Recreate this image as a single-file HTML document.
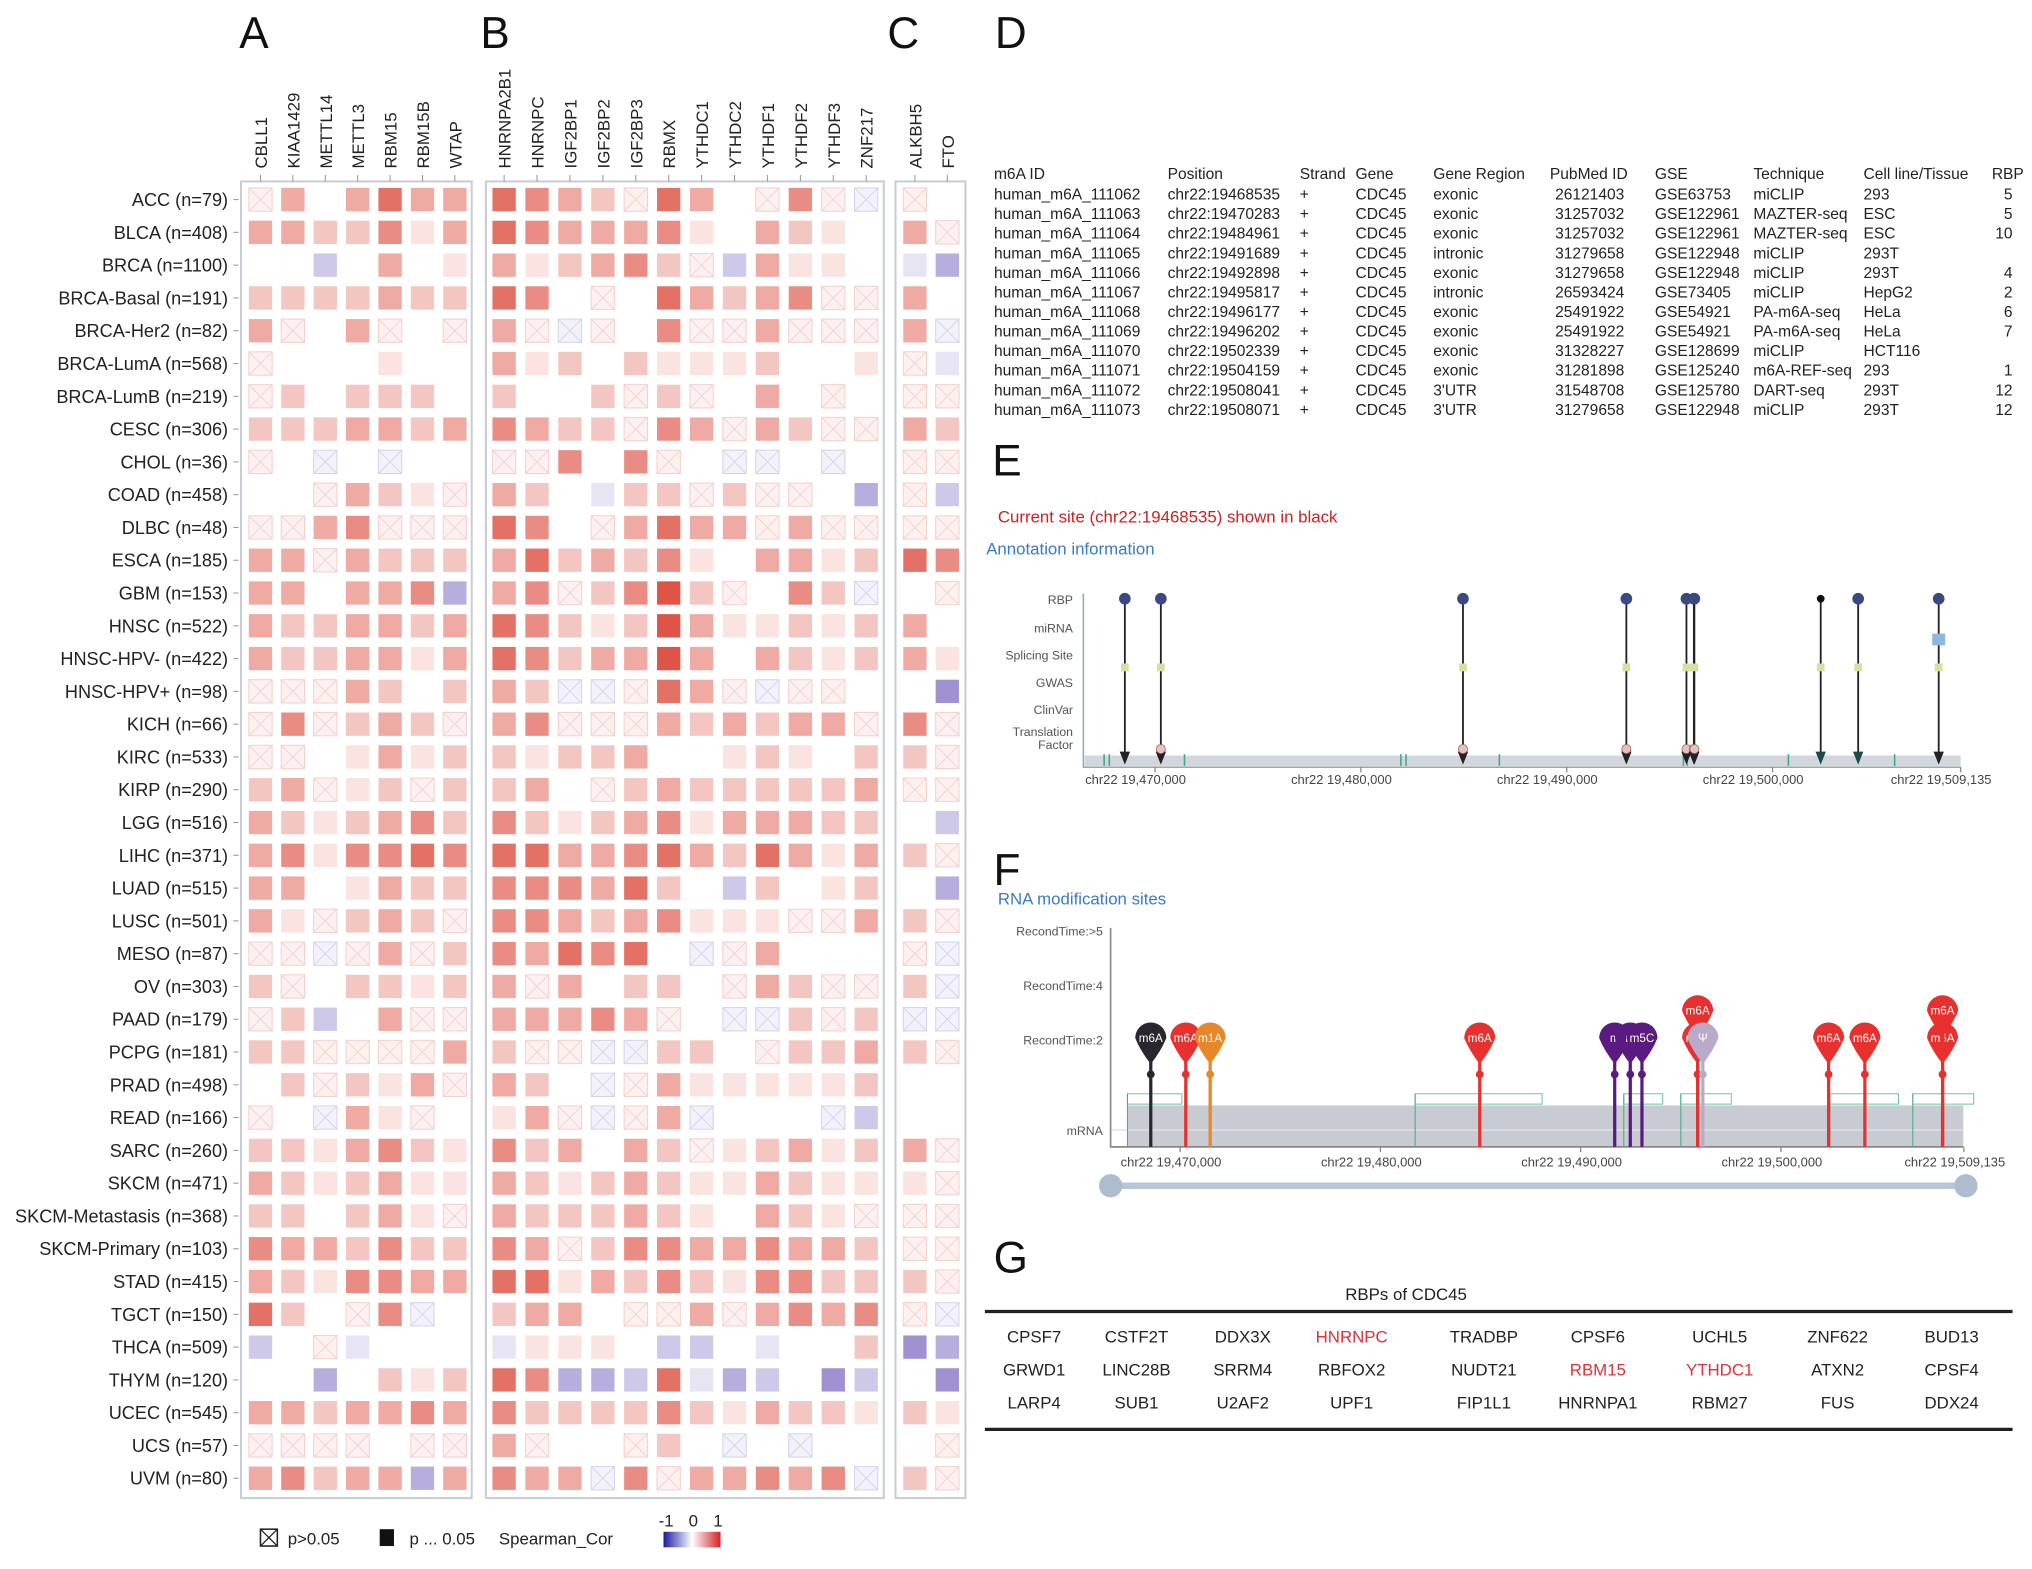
<!DOCTYPE html>
<html><head><meta charset="utf-8">
<style>
html,body{margin:0;padding:0;background:#fff;width:2032px;height:1563px;overflow:hidden}
#stage{position:absolute;left:0;top:0;width:1568px;height:1206px;transform:scale(1.29592);transform-origin:0 0}
svg{font-family:"Liberation Sans",sans-serif}
</style></head>
<body>
<div id="stage">
<svg id="fig" width="1568" height="1206" viewBox="0 0 1568 1206"></svg>
</div>
<script>
const cancerTypes=["ACC (n=79)","BLCA (n=408)","BRCA (n=1100)","BRCA-Basal (n=191)","BRCA-Her2 (n=82)","BRCA-LumA (n=568)","BRCA-LumB (n=219)","CESC (n=306)","CHOL (n=36)","COAD (n=458)","DLBC (n=48)","ESCA (n=185)","GBM (n=153)","HNSC (n=522)","HNSC-HPV- (n=422)","HNSC-HPV+ (n=98)","KICH (n=66)","KIRC (n=533)","KIRP (n=290)","LGG (n=516)","LIHC (n=371)","LUAD (n=515)","LUSC (n=501)","MESO (n=87)","OV (n=303)","PAAD (n=179)","PCPG (n=181)","PRAD (n=498)","READ (n=166)","SARC (n=260)","SKCM (n=471)","SKCM-Metastasis (n=368)","SKCM-Primary (n=103)","STAD (n=415)","TGCT (n=150)","THCA (n=509)","THYM (n=120)","UCEC (n=545)","UCS (n=57)","UVM (n=80)"];
const writerGenes=["CBLL1","KIAA1429","METTL14","METTL3","RBM15","RBM15B","WTAP"];
const readerGenes=["HNRNPA2B1","HNRNPC","IGF2BP1","IGF2BP2","IGF2BP3","RBMX","YTHDC1","YTHDC2","YTHDF1","YTHDF2","YTHDF3","ZNF217"];
const eraserGenes=["ALKBH5","FTO"];
// tokens: number = correlation*10 (significant), x = non-significant positive, y = non-significant negative
const corRows=[
"x 3 0 3 5 3 3 5 4 3 2 x 5 3 0 x 4 x y x 0",
"3 3 2 2 4 1 3 5 4 3 3 3 4 1 0 3 2 1 0 3 x",
"0 0 -2 0 3 0 1 3 1 2 3 4 2 x -2 3 1 1 0 -1 -3",
"2 2 2 2 3 2 2 5 4 0 x 0 5 3 2 3 4 x x 3 0",
"3 x 0 3 x 0 x 3 x y x 0 4 x x 3 x x x 3 y",
"x 0 0 0 1 0 0 3 1 2 0 2 1 1 1 2 0 0 1 x -1",
"x 2 0 2 2 2 0 2 0 0 2 x 2 x 0 3 0 x 0 x x",
"2 2 2 3 3 2 3 4 3 2 2 x 4 3 x 3 2 x x 3 2",
"x 0 y 0 y 0 0 x x 4 0 4 x 0 y y 0 y 0 x x",
"0 0 x 3 2 1 x 3 2 0 -1 2 2 x 2 x x 0 -3 x -2",
"x x 3 4 x x x 5 4 0 x 3 5 3 3 x 3 x x x x",
"3 3 x 3 2 2 2 3 5 2 3 2 4 1 0 3 3 1 2 5 4",
"3 3 0 3 3 4 -3 3 4 x 2 4 6 2 x 0 4 2 y 0 x",
"3 2 2 3 3 2 3 5 4 2 1 2 6 3 1 1 2 1 2 3 0",
"3 2 2 3 3 1 3 5 4 2 3 3 6 3 0 3 2 1 2 3 1",
"x x x 3 2 0 2 3 2 y y x 5 3 x y x x 0 0 -4",
"x 4 x 2 3 2 x 3 4 x x x 3 2 3 2 3 3 x 4 x",
"x x 0 1 3 1 2 2 1 2 2 3 0 0 1 2 1 0 2 2 x",
"2 3 x 1 2 x 2 2 3 0 x 2 3 2 2 2 2 2 3 x x",
"3 2 1 2 3 4 2 4 2 1 2 3 4 1 3 3 3 2 2 0 -2",
"3 4 1 4 4 5 4 5 5 3 3 4 5 3 2 5 3 1 3 2 x",
"3 3 0 1 3 2 2 4 4 4 3 5 2 0 -2 2 0 1 2 0 -3",
"3 1 x 2 3 2 x 4 4 3 2 3 4 1 1 1 x x 3 2 x",
"x x y x 3 x 2 4 3 5 4 5 0 y x 3 0 0 0 x y",
"2 x 0 2 2 1 2 3 x 3 0 2 2 0 x 3 2 x x 2 y",
"x 2 -2 0 3 x x 3 3 3 4 3 x 0 y y 2 x 2 y y",
"2 2 x x x x 3 2 x x y y 2 2 0 x 2 2 3 2 x",
"0 2 x 2 1 3 x 3 2 0 y x 3 1 1 1 1 1 2 0 0",
"x 0 y 3 1 x 0 1 3 x y x 3 y 0 0 0 y -2 0 0",
"2 2 1 3 4 2 1 4 2 3 0 3 2 x 1 2 3 1 2 3 x",
"3 2 1 2 3 1 1 3 2 1 2 3 2 1 1 3 2 1 1 1 x",
"2 2 0 2 3 1 x 3 2 2 2 3 2 1 0 3 2 1 x x x",
"4 3 3 2 4 2 2 4 3 x 2 4 4 3 3 4 3 3 2 x x",
"3 2 1 4 4 3 3 5 5 1 3 2 4 2 1 4 4 2 2 2 x",
"5 2 0 x 4 y 0 2 3 3 0 x x 3 x 3 4 3 4 x y",
"-2 0 x -1 0 0 0 -1 1 1 1 0 -2 -2 0 -1 0 0 2 -4 -3",
"0 0 -3 0 2 1 2 5 4 -3 -3 -2 5 -1 -3 -2 0 -4 -2 0 -4",
"3 3 2 3 3 4 3 4 2 2 2 2 4 2 1 3 2 2 1 2 1",
"x x x x 0 x x 3 x 0 0 x 2 0 y 0 y 0 0 0 x",
"3 4 2 3 3 -3 3 4 3 3 y 4 x 3 3 4 3 4 y 2 x"];
const tableHeaders=["m6A ID","Position","Strand","Gene","Gene Region","PubMed ID","GSE","Technique","Cell line/Tissue","RBP"];
const siteIds=["human_m6A_111062","human_m6A_111063","human_m6A_111064","human_m6A_111065","human_m6A_111066","human_m6A_111067","human_m6A_111068","human_m6A_111069","human_m6A_111070","human_m6A_111071","human_m6A_111072","human_m6A_111073"];
const sitePositions=[19468535,19470283,19484961,19491689,19492898,19495817,19496177,19496202,19502339,19504159,19508041,19508071];
const siteRegions=["exonic","exonic","exonic","intronic","exonic","intronic","exonic","exonic","exonic","exonic","3'UTR","3'UTR"];
const sitePubmed=["26121403","31257032","31257032","31279658","31279658","26593424","25491922","25491922","31328227","31281898","31548708","31279658"];
const siteGse=["GSE63753","GSE122961","GSE122961","GSE122948","GSE122948","GSE73405","GSE54921","GSE54921","GSE128699","GSE125240","GSE125780","GSE122948"];
const siteTech=["miCLIP","MAZTER-seq","MAZTER-seq","miCLIP","miCLIP","miCLIP","PA-m6A-seq","PA-m6A-seq","miCLIP","m6A-REF-seq","DART-seq","miCLIP"];
const siteCell=["293","ESC","ESC","293T","293T","HepG2","HeLa","HeLa","HCT116","293","293T","293T"];
const siteRbp=["5","5","10","","4","2","6","7","","1","12","12"];
const annotPositions=[19468535,19470283,19484961,19492898,19495817,19496177,19496202,19502339,19504159,19508071];
const axisTicks=[19470000,19480000,19490000,19500000,19509135];
const tickLabels=["chr22 19,470,000","chr22 19,480,000","chr22 19,490,000","chr22 19,500,000","chr22 19,509,135"];
const modPositions=[19468535,19470283,19471500,19484961,19491700,19492477,19493060,19495841,19495841,19496100,19502380,19504190,19508071,19508071];
const modLabels=["m6A","m6A","m1A","m6A","m","m","m5C","m6A","m6A","Ψ","m6A","m6A","m6A","m6A"];
const modLevels=[2,2,2,2,2,2,2,2,3,2,2,2,2,3];
const modColors=["#2a2630","#e8302e","#e8862a","#e8302e","#5a1a82","#5a1a82","#5a1a82","#e8302e","#e8302e","#b8aac8","#e8302e","#e8302e","#e8302e","#e8302e"];
const rbpNames=[["CPSF7","CSTF2T","DDX3X","HNRNPC","TRADBP","CPSF6","UCHL5","ZNF622","BUD13"],["GRWD1","LINC28B","SRRM4","RBFOX2","NUDT21","RBM15","YTHDC1","ATXN2","CPSF4"],["LARP4","SUB1","U2AF2","UPF1","FIP1L1","HNRNPA1","RBM27","FUS","DDX24"]];
const rbpHighlight=["HNRNPC","RBM15","YTHDC1"];

const NS="http://www.w3.org/2000/svg";
const svg=document.getElementById("fig");
function mk(tag,attrs,parent){const e=document.createElementNS(NS,tag);for(const k in attrs)e.setAttribute(k,attrs[k]);(parent||svg).appendChild(e);return e;}
function txt(s,attrs,parent){const e=mk("text",attrs,parent);e.textContent=s;return e;}

[["A",196,37],["B",382,37],["C",697,37],["D",780,37],["E",777,367],["F",777,683],["G",780,982]].forEach(p=>{
 const t=txt(p[0],{x:p[1],y:p[2],"font-size":34,"text-anchor":"middle",fill:"#111"});
 
 
});

const rowY=r=>154+r*25.3;
const groups=[{genes:writerGenes,x0:201,step:25,box:[186,364],name:"writers"},{genes:readerGenes,x0:389,step:25.4,box:[375,682],name:"readers"},{genes:eraserGenes,x0:706,step:25,box:[691,745],name:"erasers"}];
function cellColor(v){const t=Math.min(Math.abs(v)/0.6,1);const tgt=v>=0?[222,84,70]:[112,92,188];
 const c=tgt.map(ch=>Math.round(255+(ch-255)*t));return "rgb("+c.join(",")+")";}
let colIndex=0;
const parsed=corRows.map(r=>r.trim().split(/\s+/).map(tk=>tk==="x"?{v:0.05,ns:true}:tk==="y"?{v:-0.05,ns:true}:{v:parseFloat(tk)/10,ns:false}));
groups.forEach((g,gi)=>{
 const box=mk("rect",{x:g.box[0],y:140,width:g.box[1]-g.box[0],height:1016,fill:"none",stroke:"#c9cdd4","stroke-width":1.6});
 
 
 g.genes.forEach((gene,ci)=>{
  const cx=g.x0+ci*g.step;
  const lab=txt(gene,{x:cx+5,y:130,"font-size":13,fill:"#222",transform:"rotate(-90 "+(cx+5)+" 130)"});
  
  
  mk("line",{x1:cx,y1:135,x2:cx,y2:140,stroke:"#999","stroke-width":0.8});
  parsed.forEach((row,ri)=>{
   const d=row[colIndex+ci];const cy=rowY(ri);
   const col=cellColor(d.v);
   const cell=mk("rect",{x:cx-9,y:cy-9,width:18,height:18,fill:col});
   
   
   if(d.ns){
    const sc=d.v>=0?"#f5d0cd":"#d4d4ee";
    mk("rect",{x:cx-9,y:cy-9,width:18,height:18,fill:"none",stroke:sc,"stroke-width":0.8});
    mk("path",{d:`M${cx-9} ${cy-9}L${cx+9} ${cy+9}M${cx+9} ${cy-9}L${cx-9} ${cy+9}`,stroke:sc,"stroke-width":0.7});
   }
  });
 });
 colIndex+=g.genes.length;
});
cancerTypes.forEach((c,ri)=>{
 const t=txt(c,{x:176,y:rowY(ri)+5,"font-size":14,"text-anchor":"end",fill:"#222"});
 
 
 mk("line",{x1:180,y1:rowY(ri),x2:184,y2:rowY(ri),stroke:"#999","stroke-width":0.8});
});
const lg=mk("g",{});


mk("rect",{x:201,y:1180,width:13,height:13,fill:"none",stroke:"#222","stroke-width":1.2},lg);
mk("path",{d:"M201 1180L214 1193M214 1180L201 1193",stroke:"#222","stroke-width":1},lg);
txt("p>0.05",{x:222,y:1192,"font-size":13,fill:"#222"},lg);
mk("rect",{x:293,y:1180,width:11,height:13,fill:"#111"},lg);
txt("p ... 0.05",{x:316,y:1192,"font-size":13,fill:"#222"},lg);
txt("Spearman_Cor",{x:385,y:1192,"font-size":13,fill:"#222"},lg);
const defs=mk("defs",{});
const grad=mk("linearGradient",{id:"cbar",x1:0,x2:1,y1:0,y2:0},defs);
mk("stop",{offset:"0","stop-color":"#1a1aa0"},grad);mk("stop",{offset:"0.5","stop-color":"#ffffff"},grad);mk("stop",{offset:"1","stop-color":"#d8202a"},grad);
const cb=mk("rect",{x:512,y:1182,width:44,height:12,fill:"url(#cbar)"},lg);


[["-1",514],["0",535],["1",554]].forEach(p=>txt(p[0],{x:p[1],y:1178,"font-size":13,"text-anchor":"middle",fill:"#222"},lg));

const tblX=[767,901,1003,1046,1106,1196,1277,1353,1438,1537];
const th=mk("g",{});


tableHeaders.forEach((h,i)=>txt(h,{x:tblX[i],y:138,"font-size":12,fill:"#222"},th));
siteIds.forEach((id,r)=>{
 const y=154+r*15.1;
 const vals=[id,"chr22:"+sitePositions[r],"+","CDC45",siteRegions[r],sitePubmed[r],siteGse[r],siteTech[r],siteCell[r]];
 vals.forEach((v,i)=>txt(v,{x:tblX[i]+(i===5?4:0),y:y,"font-size":12,fill:"#222"},th));
 txt(siteRbp[r],{x:1553,y:y,"font-size":12,"text-anchor":"end",fill:"#222"},th);
});

const ex=p=>868+(p-19468535)*628/39536;
const eg=mk("g",{});


txt("Current site (chr22:19468535) shown in black",{x:770,y:403,"font-size":13,fill:"#cc2222"},eg);
txt("Annotation information",{x:761,y:428,"font-size":13,fill:"#3a7ac8"},eg);
[["RBP",466],["miRNA",488],["Splicing Site",509],["GWAS",530],["ClinVar",551],["Translation",568],["Factor",578]].forEach(l=>txt(l[0],{x:828,y:l[1],"font-size":9.5,"text-anchor":"end",fill:"#555"},eg));
mk("rect",{x:837,y:583,width:676,height:8,fill:"#d4d6de"},eg);
mk("path",{d:"M836 458V592H1513",stroke:"#9aa","stroke-width":1.2,fill:"none"},eg);
[852,856,914,1081,1085,1157,1299,1302,1380,1462].forEach(x=>mk("line",{x1:x,y1:582,x2:x,y2:591,stroke:"#3aaa88","stroke-width":1.2},eg));
axisTicks.forEach((t,i)=>{
 mk("line",{x1:ex(t),y1:592,x2:ex(t),y2:596,stroke:"#888"},eg);
 txt(tickLabels[i],{x:ex(t)-15,y:605,"font-size":10,"text-anchor":"middle",fill:"#444"},eg);
});
annotPositions.forEach((p,i)=>{
 const x=ex(p);
 const ln=mk("line",{x1:x,y1:462,x2:x,y2:582,stroke:"#222","stroke-width":1.4},eg);
 
 
 mk("path",{d:`M${x-4} ${580}L${x+4} ${580}L${x} ${590}Z`,fill:i>=7&&i<9?"#1a4a4a":"#222"},eg);
 if(i!==7){mk("circle",{cx:x,cy:462,r:4.5,fill:"#3a4a80"},eg);}else{mk("circle",{cx:x,cy:462,r:3,fill:"#111"},eg);}
 mk("rect",{x:x-3,y:512,width:6,height:6,fill:"#d8e0a0"},eg);
 if([1,2,3,4,5,6].includes(i))mk("circle",{cx:x,cy:578,r:3.5,fill:"#e8c0c0",stroke:"#a06060","stroke-width":0.6},eg);
 if(i===9)mk("rect",{x:x-5,y:489,width:10,height:9,fill:"#8ab8e0"},eg);
});

const fx=p=>888+(p-19468535)*611/39536;
const fg=mk("g",{});


txt("RNA modification sites",{x:770,y:698,"font-size":13,fill:"#3a7ac8"},fg);
[["RecondTime:>5",722],["RecondTime:4",764],["RecondTime:2",806],["mRNA",876]].forEach(l=>txt(l[0],{x:851,y:l[1],"font-size":9.5,"text-anchor":"end",fill:"#555"},fg));
mk("rect",{x:870,y:853,width:645,height:32,fill:"#c8cbd2"},fg);
mk("line",{x1:858,y1:872,x2:1515,y2:872,stroke:"#e0e2e6","stroke-width":1},fg);
mk("path",{d:"M857 716V885H1515",stroke:"#888","stroke-width":1.3,fill:"none"},fg);
[[870,912],[1092,1190],[1253,1283],[1297,1336],[1412,1465],[1476,1523]].forEach(b=>{
 mk("rect",{x:b[0],y:844,width:b[1]-b[0],height:8,fill:"none",stroke:"#6acaa8","stroke-width":0.8},fg);
 mk("line",{x1:b[0],y1:844,x2:b[0],y2:885,stroke:"#4aaa88","stroke-width":0.8},fg);
});
axisTicks.forEach((t,i)=>{
 const x=fx(t);
 mk("line",{x1:x,y1:885,x2:x,y2:889,stroke:"#888"},fg);
 txt(tickLabels[i],{x:x-7,y:900,"font-size":10,"text-anchor":"middle",fill:"#444"},fg);
});
mk("line",{x1:857,y1:915,x2:1517,y2:915,stroke:"#b8c6d8","stroke-width":5,"stroke-linecap":"round"},fg);
mk("circle",{cx:857,cy:915,r:9,fill:"#aebcd0"},fg);
mk("circle",{cx:1517,cy:915,r:9,fill:"#aebcd0"},fg);
modPositions.forEach((p,i)=>{
 const x=fx(p),hy=modLevels[i]===3?780:801,c=modColors[i];
 const g=mk("g",{},fg);
 
 
 mk("line",{x1:x,y1:hy,x2:x,y2:885,stroke:c,"stroke-width":2.5},g);
 mk("circle",{cx:x,cy:829,r:3,fill:c},g);
 mk("path",{d:`M${x-12} ${hy}A12 12 0 1 1 ${x+12} ${hy}Q${x+8} ${hy+10} ${x} ${hy+20}Q${x-8} ${hy+10} ${x-12} ${hy}Z`,fill:c},g);
 txt(modLabels[i],{x:x,y:hy+3,"font-size":9,"text-anchor":"middle",fill:"#fff"},g);
});

const gg=mk("g",{});


txt("RBPs of CDC45",{x:1085,y:1003,"font-size":13,"text-anchor":"middle",fill:"#222"},gg);
mk("line",{x1:760,y1:1012,x2:1553,y2:1012,stroke:"#222","stroke-width":2.5},gg);
mk("line",{x1:760,y1:1103,x2:1553,y2:1103,stroke:"#222","stroke-width":2.5},gg);
const gX=[798,877,959,1043,1145,1233,1327,1418,1506];
rbpNames.forEach((row,r)=>row.forEach((n,c)=>{
 const t=txt(n,{x:gX[c],y:1036+r*25.5,"font-size":13,"text-anchor":"middle",fill:rbpHighlight.includes(n)?"#e0303a":"#222"},gg);
 
 
}));
</script>
</body></html>
